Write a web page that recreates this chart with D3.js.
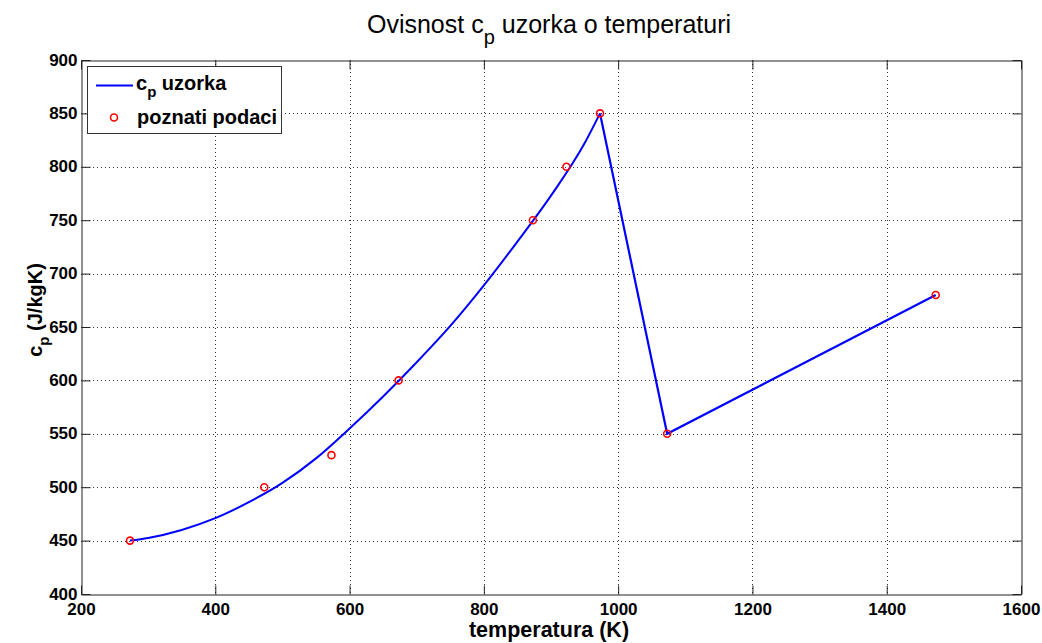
<!DOCTYPE html>
<html><head><meta charset="utf-8">
<script src="https://cdn.jsdelivr.net/npm/d3@7"></script>
<style>
body{margin:0;background:#fff}
text{font-family:"Liberation Sans",Arial,Helvetica,sans-serif}
</style>
</head><body>
<svg id="chart" width="1042" height="643"></svg>
<script>
// known data points (poznati podaci)
const knownT  = [273, 473, 573, 673, 873, 923, 973, 1073, 1473];
const knownCp = [450, 500, 530, 600, 750, 800, 850, 550, 680];
// fitted curve c_p uzorka (smooth part)
const fitT  = [273, 300, 350, 400, 450, 500, 550, 600, 650, 700, 750, 800, 850, 900, 950, 973];
const fitCp = [450, 452.5, 460, 471, 486, 504, 527, 555, 585, 617, 651, 689, 730, 773, 822, 850];
// straight part of the curve
const segT  = [973, 1073, 1473];
const segCp = [850, 550, 680];
// ticks
const xTicks = [200, 400, 600, 800, 1000, 1200, 1400, 1600];
const yTicks = [400, 450, 500, 550, 600, 650, 700, 750, 800, 850, 900];

const svg = d3.select("#chart");
const L = 81, R = 1021, T = 60, B = 594;
const x = d3.scaleLinear().domain([200, 1600]).range([L, R]);
const y = d3.scaleLinear().domain([400, 900]).range([B, T]);

svg.append("rect").attr("width", 1042).attr("height", 643).attr("fill", "#fff");

// grid
const grid = svg.append("g").attr("stroke", "#333").attr("stroke-width", 1).attr("stroke-dasharray", "1,3");
xTicks.slice(1, -1).forEach(t => {
  const px = Math.round(x(t)) + 0.5;
  grid.append("line").attr("x1", px).attr("x2", px).attr("y1", T).attr("y2", B);
});
yTicks.slice(1, -1).forEach(t => {
  const py = Math.round(y(t)) + 0.5;
  grid.append("line").attr("x1", L).attr("x2", R).attr("y1", py).attr("y2", py);
});

// axes with inward ticks on all sides
const tl = 9;
const fmt = d3.format("d");
const axB = svg.append("g").attr("transform", `translate(0,${B + 0.5})`)
  .call(d3.axisBottom(x).tickValues(xTicks).tickFormat(fmt).tickSizeInner(-tl).tickSizeOuter(0));
const axT = svg.append("g").attr("transform", `translate(0,${T + 0.5})`)
  .call(d3.axisTop(x).tickValues(xTicks).tickSizeInner(-tl).tickSizeOuter(0).tickFormat(""));
const axL = svg.append("g").attr("transform", `translate(${L + 0.5},0)`)
  .call(d3.axisLeft(y).tickValues(yTicks).tickFormat(fmt).tickSizeInner(-tl).tickSizeOuter(0));
const axR = svg.append("g").attr("transform", `translate(${R + 0.5},0)`)
  .call(d3.axisRight(y).tickValues(yTicks).tickSizeInner(-tl).tickSizeOuter(0).tickFormat(""));
[axB, axT, axL, axR].forEach(a => {
  a.selectAll(".domain").attr("stroke", "#222");
  a.selectAll(".tick line").attr("stroke", "#222");
});
axB.selectAll("text").attr("font-size", 17).attr("font-weight", "bold").attr("fill", "#000")
  .attr("dy", "0").attr("y", 20);
axL.selectAll("text").attr("font-size", 17).attr("font-weight", "bold").attr("fill", "#000")
  .attr("dy", "0").attr("y", 5).attr("x", -4);

// fitted curve
svg.append("path")
  .datum(fitT.map((t, i) => [t, fitCp[i]]))
  .attr("d", d3.line().x(d => x(d[0])).y(d => y(d[1])).curve(d3.curveMonotoneX))
  .attr("fill", "none").attr("stroke", "#0000ff").attr("stroke-width", 2);
svg.append("path")
  .datum(segT.map((t, i) => [t, segCp[i]]))
  .attr("d", d3.line().x(d => x(d[0])).y(d => y(d[1])))
  .attr("fill", "none").attr("stroke", "#0000ff").attr("stroke-width", 2.2);

// known points
svg.append("g").selectAll("circle")
  .data(knownT.map((t, i) => [t, knownCp[i]]))
  .join("circle")
  .attr("cx", d => x(d[0])).attr("cy", d => y(d[1])).attr("r", 3.5)
  .attr("fill", "none").attr("stroke", "#ff0000").attr("stroke-width", 1.6);

// title
const title = svg.append("text").attr("x", 549).attr("y", 33).attr("text-anchor", "middle")
  .attr("font-size", 25).attr("fill", "#000");
title.append("tspan").text("Ovisnost c");
title.append("tspan").attr("font-size", 20).attr("dy", 11).text("p");
title.append("tspan").attr("dy", -11).text(" uzorka o temperaturi");

// x label
svg.append("text").attr("x", 549).attr("y", 637).attr("text-anchor", "middle")
  .attr("font-size", 21.5).attr("font-weight", "bold").text("temperatura (K)");

// y label
const yl = svg.append("text").attr("transform", "translate(42,310) rotate(-90)")
  .attr("text-anchor", "middle").attr("font-size", 20).attr("font-weight", "bold");
yl.append("tspan").text("c");
yl.append("tspan").attr("font-size", 15).attr("dy", 7).text("p");
yl.append("tspan").attr("dy", -7).text(" (J/kgK)");

// legend
const lg = svg.append("g");
lg.append("rect").attr("x", 87.5).attr("y", 66.5).attr("width", 194).attr("height", 67)
  .attr("fill", "#fff").attr("stroke", "#333").attr("stroke-width", 1);
lg.append("line").attr("x1", 96).attr("x2", 133).attr("y1", 85.5).attr("y2", 85.5)
  .attr("stroke", "#0000ff").attr("stroke-width", 2);
const t1 = lg.append("text").attr("x", 136).attr("y", 90).attr("font-size", 20).attr("font-weight", "bold");
t1.append("tspan").text("c");
t1.append("tspan").attr("font-size", 15).attr("dy", 7).text("p");
t1.append("tspan").attr("dy", -7).text(" uzorka");
lg.append("circle").attr("cx", 114).attr("cy", 117.5).attr("r", 3.5)
  .attr("fill", "none").attr("stroke", "#ff0000").attr("stroke-width", 1.6);
lg.append("text").attr("x", 137).attr("y", 124).attr("font-size", 20).attr("font-weight", "bold")
  .text("poznati podaci");
</script>
</body></html>
